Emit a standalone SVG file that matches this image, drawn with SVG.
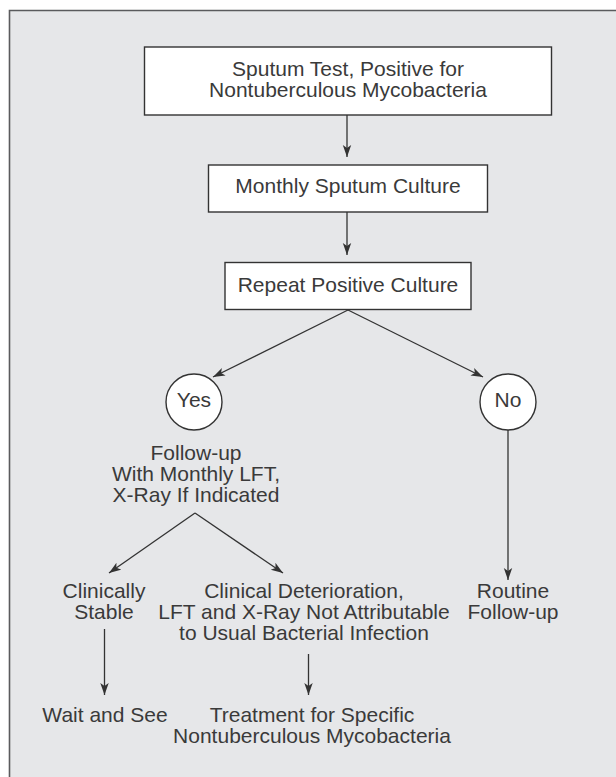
<svg xmlns="http://www.w3.org/2000/svg" width="616" height="777" viewBox="0 0 616 777">
<defs>
<style>
.bg{fill:#e6e7e9;}
.frame{fill:none;stroke:#5a5b5d;stroke-width:1.6;}
.box{fill:#ffffff;stroke:#333333;stroke-width:1.4;}
.c{fill:none;stroke:#333333;stroke-width:1.3;}
text{font-family:"Liberation Sans",Arial,sans-serif;font-size:21px;fill:#3a3a3a;text-anchor:middle;}
</style>
<marker id="ah" viewBox="-12 -5 13 10" refX="0" refY="0" markerWidth="13" markerHeight="10" markerUnits="userSpaceOnUse" orient="auto">
<path d="M0,0 L-12,-4.2 L-9,0 L-12,4.2 Z" fill="#333333"/>
</marker>
</defs>
<rect x="0" y="0" width="616" height="777" fill="#ffffff"/>
<rect class="bg" x="9.5" y="10.5" width="607" height="767"/>
<path class="frame" d="M9.5,777 V10.5 H616"/>
<g id="connectors">
<line class="c" x1="347" y1="115" x2="347" y2="157" marker-end="url(#ah)"/>
<line class="c" x1="347" y1="212" x2="347" y2="255" marker-end="url(#ah)"/>
<line class="c" x1="348" y1="310" x2="213" y2="377" marker-end="url(#ah)"/>
<line class="c" x1="348" y1="310" x2="483" y2="377" marker-end="url(#ah)"/>
<line class="c" x1="508" y1="430" x2="508" y2="580" marker-end="url(#ah)"/>
<line class="c" x1="195" y1="513" x2="109" y2="573" marker-end="url(#ah)"/>
<line class="c" x1="195" y1="513" x2="283" y2="573" marker-end="url(#ah)"/>
<line class="c" x1="104.5" y1="629" x2="104.5" y2="695" marker-end="url(#ah)"/>
<line class="c" x1="308.5" y1="654" x2="308.5" y2="695" marker-end="url(#ah)"/>
</g>
<g id="n1">
<rect class="box" x="144.5" y="47" width="407" height="68"/>
<text x="348" y="76">Sputum Test, Positive for</text>
<text x="348" y="97">Nontuberculous Mycobacteria</text>
</g>
<g id="n2">
<rect class="box" x="208.5" y="165" width="279" height="47"/>
<text x="348" y="193">Monthly Sputum Culture</text>
</g>
<g id="n3">
<rect class="box" x="225" y="262.5" width="246" height="47"/>
<text x="348" y="291.5">Repeat Positive Culture</text>
</g>
<g id="yes">
<circle class="box" cx="194" cy="402" r="28"/>
<text x="194" y="407">Yes</text>
</g>
<g id="no">
<circle class="box" cx="508" cy="402" r="28"/>
<text x="508" y="407">No</text>
</g>
<g id="followup">
<text x="196" y="460">Follow-up</text>
<text x="196" y="481">With Monthly LFT,</text>
<text x="196" y="502">X-Ray If Indicated</text>
</g>
<g id="stable">
<text x="104" y="598">Clinically</text>
<text x="104" y="619">Stable</text>
</g>
<g id="deterioration">
<text x="304" y="598">Clinical Deterioration,</text>
<text x="304" y="619">LFT and X-Ray Not Attributable</text>
<text x="304" y="640">to Usual Bacterial Infection</text>
</g>
<g id="routine">
<text x="513" y="598">Routine</text>
<text x="513" y="619">Follow-up</text>
</g>
<g id="wait">
<text x="105" y="722">Wait and See</text>
</g>
<g id="treatment">
<text x="312" y="722">Treatment for Specific</text>
<text x="312" y="743">Nontuberculous Mycobacteria</text>
</g>
</svg>
